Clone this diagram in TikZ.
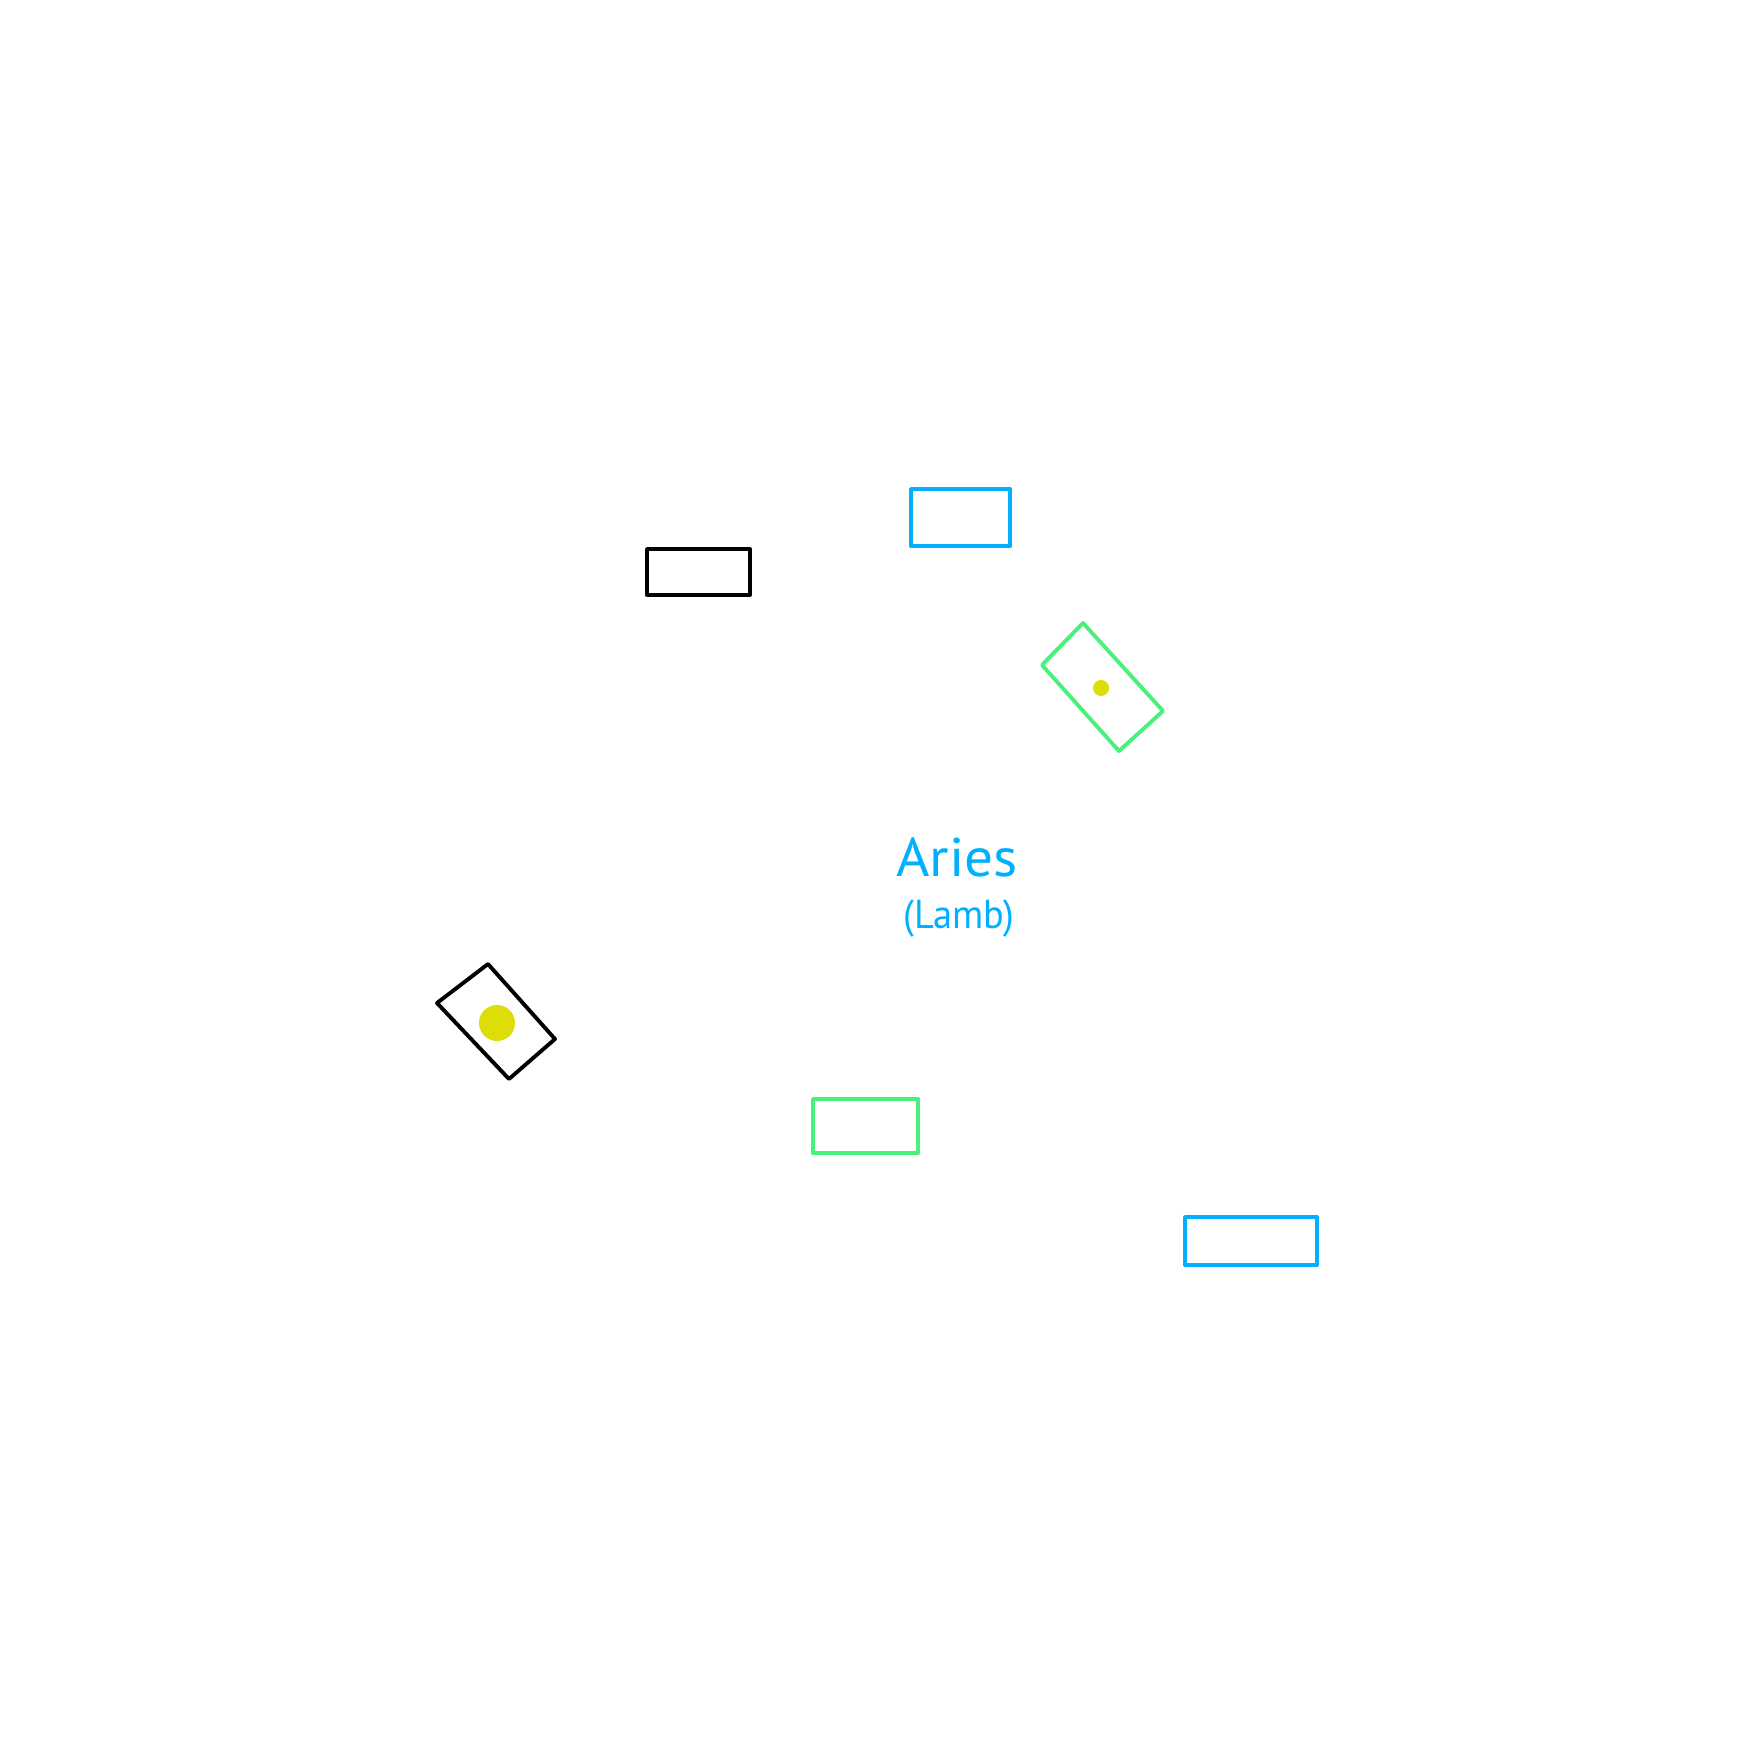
\documentclass[tikz,border=0pt]{standalone}
\usepackage{fontspec}
\setmainfont{PT Sans}
\definecolor{skyb}{HTML}{00B0FF}
\definecolor{mint}{HTML}{4AF07C}
\definecolor{yel}{HTML}{DDDD0A}
\begin{document}
\begin{tikzpicture}[x=0.01cm,y=-0.01cm,
  frame/.style={line width=1.1pt,line join=round},
  spot/.style={fill=yel,draw=none}]
\useasboundingbox (0,0) rectangle (1754,1754);
% upright boxes
\draw[frame,black] (647,549) rectangle (750,595);
\draw[frame,skyb] (911,489) rectangle (1010,546);
\draw[frame,mint] (813,1099) rectangle (918,1153);
\draw[frame,skyb] (1185,1217) rectangle (1317,1265);
% tilted green box
\coordinate (g1) at (1083,623);
\coordinate (g2) at (1163,711);
\coordinate (g3) at (1119,751);
\coordinate (g4) at (1042,665);
\draw[frame,mint] (g1) -- (g2) -- (g3) -- (g4) -- cycle;
\fill[spot] (1101,688) circle (8);
% tilted black box
\coordinate (b1) at (488,964);
\coordinate (b2) at (555,1039);
\coordinate (b3) at (509,1079);
\coordinate (b4) at (437,1003);
\draw[frame,black] (b1) -- (b2) -- (b3) -- (b4) -- cycle;
\fill[spot] (497,1023) circle (18);
% label
\node[text=skyb,font=\fontsize{15.5}{18}\selectfont,anchor=base,xscale=1.05] (t1) at (957,876) {Aries};
\node[text=skyb,font=\fontsize{11.5}{14}\selectfont,anchor=base,xscale=0.95] (t2) at (959,928) {(Lamb)};
\end{tikzpicture}
\end{document}
